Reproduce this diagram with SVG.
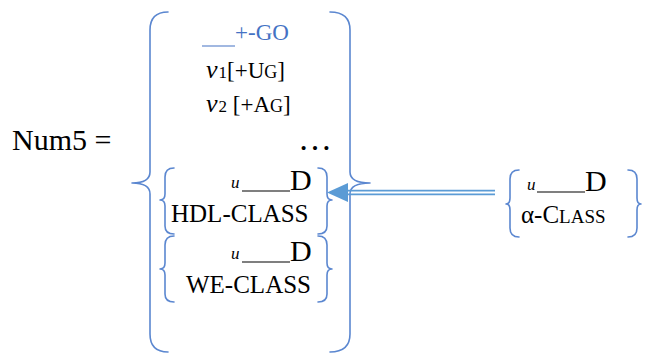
<svg xmlns="http://www.w3.org/2000/svg" width="647" height="354" viewBox="0 0 647 354">
<defs>
<marker id="none" markerWidth="1" markerHeight="1"/>
</defs>
<rect width="647" height="354" fill="#fff"/>
<g id="num5">
<text x="12" y="150" font-size="30" font-family="Liberation Serif">Num5 =</text>
</g>
<g id="outer">
<g fill="none" stroke="#5B87D0" stroke-width="1.6" stroke-linecap="round" stroke-linejoin="round">
<path d="M168,12 Q150,12 150,30 L150,172 Q150,183 132,183 Q150,183 150,194 L150,334 Q150,352 168,352"/>
<path d="M330,12 Q350,12 350,30 L350,172 Q350,183 370,183 Q350,183 350,194 L350,334 Q350,352 330,352"/>
</g>
<line x1="202" y1="46" x2="235" y2="46" stroke="#4472C4" stroke-width="1.2"/>
<text x="235" y="40" font-size="23" fill="#4472C4" font-family="Liberation Serif">+-GO</text>
<text x="206" y="78" font-size="26" font-family="Liberation Serif"><tspan font-style="italic">v</tspan><tspan font-size="17" dx="1">1</tspan><tspan font-size="23">[+U</tspan><tspan font-size="18">G</tspan><tspan font-size="23">]</tspan></text>
<text x="206" y="112" font-size="26" font-family="Liberation Serif"><tspan font-style="italic">v</tspan><tspan font-size="17" dx="1">2</tspan><tspan font-size="23"> [+A</tspan><tspan font-size="18">G</tspan><tspan font-size="23">]</tspan></text>
<text x="298" y="150" font-size="34" font-family="Liberation Serif">&#8230;</text>
</g>
<g id="hdl">
<g fill="none" stroke="#5B87D0" stroke-width="1.6" stroke-linecap="round" stroke-linejoin="round">
<path d="M174,168 Q165,168 165,177 L165,194 Q165,200 160,200 Q165,200 165,206 L165,226 Q165,234 174,234"/>
<path d="M318,168 Q327,168 327,177 L327,194 Q327,200 332,200 Q327,200 327,206 L327,226 Q327,234 318,234"/>
</g>
<text x="231" y="188" font-size="17" font-style="italic" font-family="Liberation Serif">u</text>
<line x1="242" y1="191" x2="290" y2="191" stroke="#000" stroke-width="1.2"/>
<text x="290" y="190" font-size="30" font-family="Liberation Serif">D</text>
<text x="171" y="222" font-size="25" font-family="Liberation Serif">HDL-CLASS</text>
</g>
<g id="we">
<g fill="none" stroke="#5B87D0" stroke-width="1.6" stroke-linecap="round" stroke-linejoin="round">
<path d="M174,236 Q165,236 165,245 L165,263 Q165,269 160,269 Q165,269 165,275 L165,294 Q165,302 174,302"/>
<path d="M318,236 Q327,236 327,245 L327,263 Q327,269 332,269 Q327,269 327,275 L327,294 Q327,302 318,302"/>
</g>
<text x="231" y="259" font-size="17" font-style="italic" font-family="Liberation Serif">u</text>
<line x1="242" y1="262" x2="290" y2="262" stroke="#000" stroke-width="1.2"/>
<text x="290" y="261" font-size="30" font-family="Liberation Serif">D</text>
<text x="186" y="293" font-size="25" font-family="Liberation Serif">WE-CLASS</text>
</g>
<g id="alpha">
<g fill="none" stroke="#5B87D0" stroke-width="1.6" stroke-linecap="round" stroke-linejoin="round">
<path d="M519,170 Q510,170 510,179 L510,198 Q510,204 506,204 Q510,204 510,210 L510,228 Q510,237 519,237"/>
<path d="M628,170 Q637,170 637,179 L637,198 Q637,204 641,204 Q637,204 637,210 L637,228 Q637,237 628,237"/>
</g>
<text x="527" y="190" font-size="17" font-style="italic" font-family="Liberation Serif">u</text>
<line x1="537" y1="192" x2="585" y2="192" stroke="#000" stroke-width="1.2"/>
<text x="585" y="191" font-size="30" font-family="Liberation Serif">D</text>
<text x="521" y="223" font-size="25" font-family="Liberation Serif">&#945;-C<tspan font-size="19">LASS</tspan></text>
</g>
<g id="connectors">
<line x1="347" y1="190.6" x2="495" y2="190.6" stroke="#5B9BD5" stroke-width="1.6"/>
<line x1="347" y1="194.4" x2="495" y2="194.4" stroke="#5B9BD5" stroke-width="1.6"/>
<path d="M327,192.5 L348,183 L348,202 Z" fill="#5B9BD5"/>
</g>
</svg>
